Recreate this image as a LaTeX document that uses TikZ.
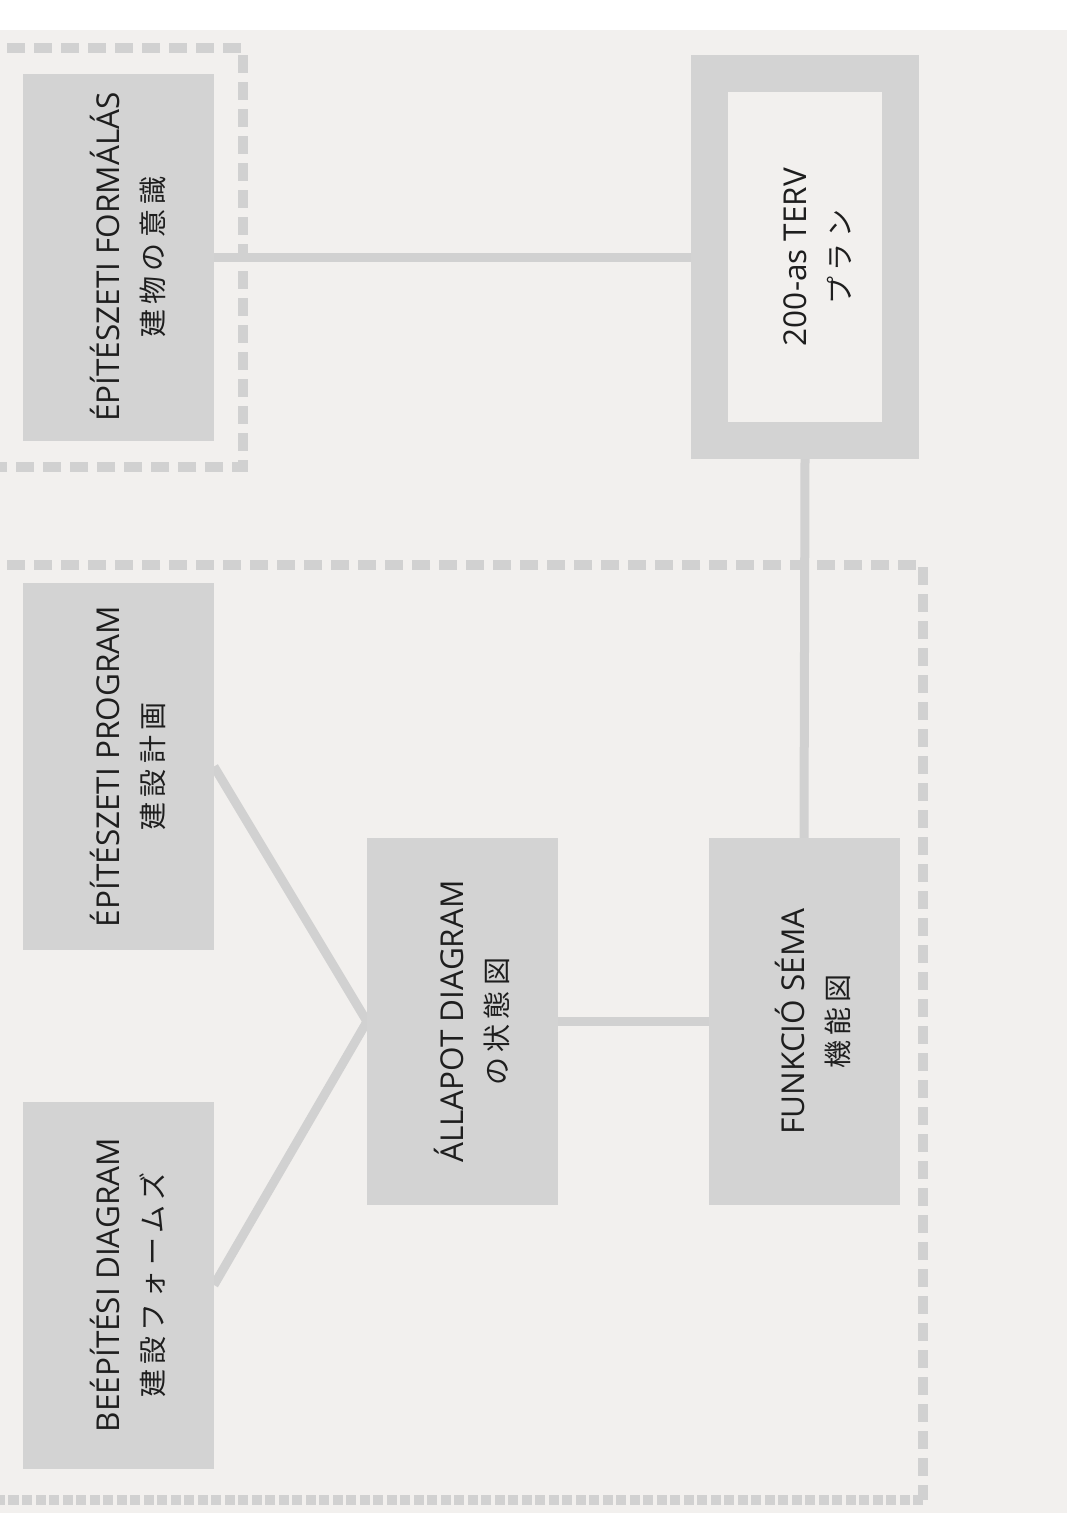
\documentclass[tikz,border=0pt]{standalone}
\usepackage{fontspec}
\setmainfont{Open Sans}
\newfontfamily\jpfont[LetterSpace=18]{Noto Sans CJK JP}
\definecolor{panel}{HTML}{F2F0EE}
\definecolor{boxgray}{HTML}{D3D3D3}
\definecolor{linegray}{HTML}{D1D1D1}
\definecolor{ink}{HTML}{1E1E1E}
\pgfdeclarelayer{bglayer}
\pgfdeclarelayer{linelayer}
\pgfsetlayers{bglayer,linelayer,main}
\newcommand{\jpline}[1]{{\jpfont\fontsize{28}{44}\selectfont #1}}
\newcommand{\topgap}{\rule{0pt}{48pt}}
\begin{document}
\begin{tikzpicture}[x=1pt,y=-1pt,
  box/.style={fill=boxgray, inner sep=0pt, outer sep=0pt, rotate=90,
    minimum width=367pt, minimum height=191pt, align=center, text=ink,
    font=\fontsize{31.5}{44}\selectfont},
  planbox/.style={box, fill=panel, draw=boxgray, line width=37pt, outer sep=18.5pt},
  conn/.style={draw=linegray, line width=9pt},
  groupframe/.style={draw=linegray, line width=10pt, dash pattern=on 18pt off 9pt},
  groupbottom/.style={draw=linegray, line width=10pt, dash pattern=on 10pt off 3.5pt}
]
\useasboundingbox (0,0) rectangle (1067,1539);
\clip (0,0) rectangle (1067,1539);
\begin{pgfonlayer}{bglayer}
  \fill[white] (0,0) rectangle (1067,1539);
  \fill[panel] (0,30) rectangle (1067,1513);
  \draw[groupframe] (-20,48) -- (243,48) -- (243,467) -- (-20,467);
  \draw[groupframe] (-20,565) -- (923,565) -- (923,1500);
  \draw[groupbottom] (923,1500) -- (-20,1500);
\end{pgfonlayer}

\node[box] (A) at (118.5,257) {\topgap ÉPÍTÉSZETI FORMÁLÁS\\\jpline{建物の意識}};
\node[box] (B) at (118.5,766.5) {\topgap ÉPÍTÉSZETI PROGRAM\\\jpline{建設計画}};
\node[box] (C) at (118.5,1285) {\topgap BEÉPÍTÉSI DIAGRAM\\\jpline{建設フォームズ}};
\node[box] (D) at (462.5,1021.5) {\topgap ÁLLAPOT DIAGRAM\\\jpline{の状態図}};
\node[box] (E) at (804,1021.5) {\topgap FUNKCIÓ SÉMA\\\jpline{機能図}};
\node[planbox] (F) at (805,257) {\topgap 200-as TERV\\\jpline{プラン}};

\begin{pgfonlayer}{linelayer}
  \draw[conn] (A.south) -- (F.north);
  \draw[conn] (F.west) -- (E.east);
  \draw[conn] (D.south) -- (E.north);
  \draw[conn] (B.south) -- (D.north);
  \draw[conn] (C.south) -- (D.north);
\end{pgfonlayer}
\end{tikzpicture}
\end{document}
